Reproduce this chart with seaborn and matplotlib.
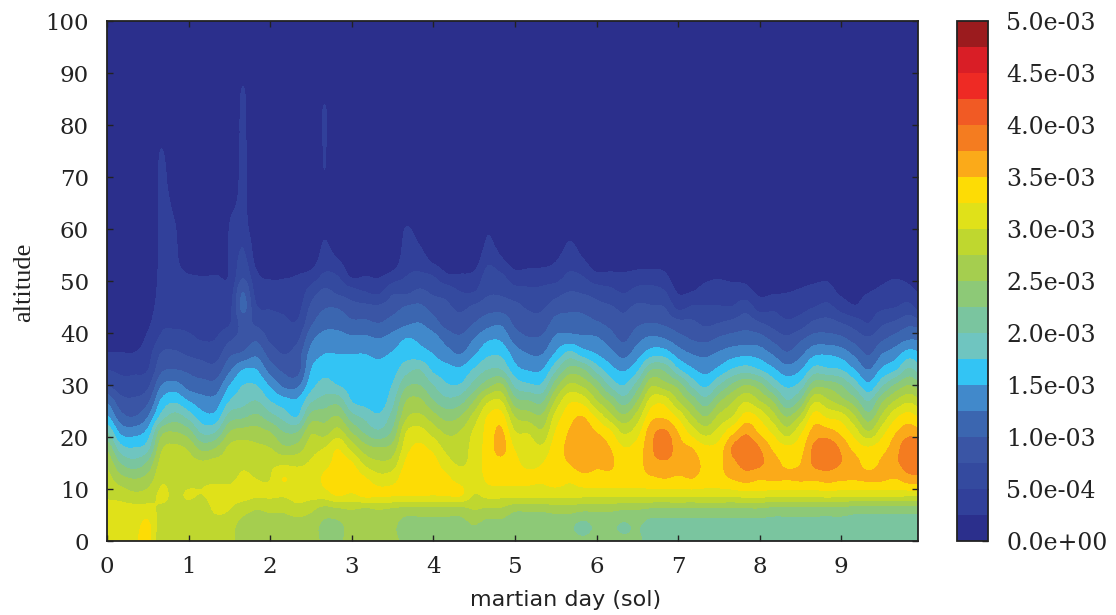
import matplotlib
matplotlib.use("Agg")
import matplotlib.pyplot as plt
from matplotlib.colors import ListedColormap, BoundaryNorm
import seaborn as sns
import numpy as np

# lower altitude rows of the profiles, 0 to 54 km, every 3 km
low_altitudes = [0, 3, 6, 9, 12, 15, 18, 21, 24, 27, 30, 33, 36, 39, 42, 45, 48, 51, 54]
# upper rows, 57 to 102 km
top_altitudes = [57, 60, 63, 66, 69, 72, 75, 78, 81, 84, 87, 90, 93, 96, 99, 102]

# one profile every 1/6 sol, in units of 1e-4
sol_0 = [
    [31, 31, 31, 29.5, 28.5, 27, 24.5, 20, 15.5, 12, 7.5, 5, 2.7, 1, .5, .3, .2, .2, .2],
    [31, 32, 31, 29, 26, 22.5, 18.5, 14.5, 11, 8.5, 6, 4.5, 2.7, 1, .5, .3, .2, .2, .2],
    [32, 31.5, 31, 28, 25, 21, 17.5, 14, 10, 8, 6, 4.5, 2.7, 1.2, .8, .4, .2, .2, .2],
    [33.5, 33.2, 31, 28.5, 26, 23, 19, 16, 12.5, 9.5, 7, 5, 4, 3, 2, 1.3, .8, .5, .3],
    [28, 28.5, 29.5, 30.5, 29.5, 28.5, 27, 24, 18.5, 15.5, 12.5, 9.5, 7.8, 5.5, 4.5, 3.8, 3.4, 3.2, 3.1],
    [28, 28.5, 29.5, 29.5, 29, 29, 28, 25, 21, 17, 13.5, 10, 8, 6, 4.5, 4, 3.5, 3.2, 3],
]
sol_1 = [
    [27.5, 28, 29, 30.3, 29, 28.5, 27, 23.5, 19, 15, 11.5, 9.5, 7.2, 5.5, 4.4, 3.7, 3.2, 2.7, 1],
    [28, 28, 28.5, 30, 29.5, 28, 24, 19.5, 16, 13.5, 11, 8.7, 6.7, 4.8, 4.2, 3.8, 3.4, 2.5, 1],
    [28.5, 28.5, 30.5, 31, 29.5, 28.5, 25, 20, 16, 13.5, 11, 8.5, 6.5, 5, 4.3, 3.9, 3.5, 2.6, 1],
    [28.5, 28.5, 30, 30.8, 29.5, 28.5, 28, 25, 21, 17.5, 15, 12, 9.5, 7, 4.8, 4.2, 3.5, 2.7, 2.7],
    [26, 26.5, 28.5, 31, 30.5, 29.5, 28.5, 26, 22, 19, 17.5, 15, 10.5, 8.5, 8.5, 10.8, 10, 7.2, 5.8],
    [26, 26, 27.5, 30.5, 30, 29, 28, 26, 23, 20, 17.5, 15, 12, 9.5, 7, 5.3, 4, 3, 1.8],
]
sol_2 = [
    [26, 26, 28, 30.5, 30, 29.5, 27.5, 25, 21, 17.5, 14.7, 11.5, 9, 7, 6, 4.8, 3.5, 2.2, .8],
    [26, 26, 28, 30.5, 32.6, 29.5, 25.5, 22.5, 19, 16, 12, 9.5, 7.5, 6.3, 5.5, 4.5, 3.3, 2.3, .8],
    [26, 26, 29, 31, 31, 29.5, 26, 22.5, 17.5, 15.5, 12, 9, 8.8, 7, 5.3, 4.1, 3.3, 2.6, 1],
    [26, 26, 28, 31, 31, 30.3, 29, 27, 23.5, 19.5, 16.5, 15, 13.5, 11.8, 9.5, 8, 6.2, 3.5, 1.2],
    [24.5, 24.5, 26.5, 31.5, 33, 31.5, 30, 26.5, 24, 21, 18.5, 16.5, 15, 13.5, 11.5, 9.8, 8, 5.5, 3.8],
    [24.5, 24.5, 27, 33, 34, 33.5, 32.3, 28.5, 25, 21.5, 17.5, 16, 15, 13.5, 11.5, 9.8, 7, 5, 2.7],
]
sol_3 = [
    [26, 26, 27.5, 32.3, 34, 32.8, 29, 25, 21, 17.5, 16.5, 16, 15, 13, 10.5, 8.5, 6, 2.2, .8],
    [26, 26, 27, 33.5, 32.8, 29.3, 26, 22, 19.3, 16.5, 16, 15.8, 15, 13, 10.5, 8.2, 5, 2.5, .8],
    [26, 26, 27.5, 33, 31, 28, 25, 20.5, 18, 16, 16, 15.7, 14.5, 12.5, 10, 8, 4.5, 2.3, .8],
    [25.5, 25.5, 27, 33, 31.5, 28.6, 26, 23, 21, 19.2, 17.7, 16.5, 15.3, 13.5, 11, 9, 7, 3.5, 1],
    [24.5, 24, 26.5, 33, 34, 33, 31.5, 30, 27, 25, 22, 19, 16.5, 15, 12, 10.2, 7, 5, 4],
    [24, 24, 26.5, 33, 34, 34, 33, 31, 28, 25.5, 22.5, 20, 16, 14.5, 12.5, 10.5, 8, 5.5, 4],
]
sol_4 = [
    [24, 24, 26.5, 32.8, 33.8, 33.5, 31.7, 29, 26, 22.6, 20, 17, 15, 13.5, 11, 9, 7, 5, 2],
    [24, 24, 26.5, 33, 33, 31, 29.2, 27, 24, 20.7, 17.8, 16, 13.5, 11.5, 9, 8, 6.5, 3, 1],
    [24, 24, 26.5, 33, 31.5, 29.7, 28.8, 27.7, 25, 21.5, 17.8, 15.5, 12.5, 10.5, 8.5, 7, 5, 2.8, 1],
    [25, 25, 27.5, 30, 31, 31, 31, 30.5, 28.5, 25, 21, 17.8, 14.7, 12.5, 10, 8, 5, 3.2, 1.2],
    [24, 24, 27, 31, 33, 33.5, 33.5, 33.3, 32.7, 29.5, 24, 20, 17, 14.5, 11.5, 9, 7, 6, 4.5],
    [24, 24, 27, 31, 33.5, 34.2, 36, 35.5, 33.5, 30, 25.5, 20, 17, 14.5, 12, 9, 7, 5.5, 3],
]
sol_5 = [
    [23.5, 23, 25.5, 31, 33.2, 33, 32.3, 30.2, 27.5, 23.5, 19.5, 16, 14, 11.5, 9.5, 8.3, 6, 3.5, 1.2],
    [23.5, 23, 25.5, 31, 33, 32, 31.5, 29.7, 26.2, 22.6, 18, 14.8, 12.5, 10.2, 8.5, 7.2, 5.5, 3.8, 1.2],
    [23.5, 23, 25.5, 31, 32.8, 32.5, 30.5, 28, 25.5, 22, 18, 15, 12.5, 10.5, 8.5, 7.2, 5.5, 4, 1.3],
    [23.5, 23, 26, 31, 33.8, 34, 34, 32.7, 31, 28, 24, 19.5, 15.5, 13, 11, 8.8, 6.5, 4, 2.4],
    [23.5, 23, 26, 31, 33, 35.1, 35.5, 35.2, 34, 32, 28, 23.5, 18.5, 13.5, 11, 9.5, 7.5, 5.5, 4],
    [23, 21.8, 25.5, 31, 34, 36.5, 37, 36.5, 35, 31.5, 27, 22.7, 16.5, 13, 11, 9.3, 7.2, 5, 2.8],
]
sol_6 = [
    [23.5, 23, 25.5, 31, 34, 35.5, 36.5, 35, 32, 27.7, 24, 19, 15, 12.8, 10.3, 8.3, 6.5, 3.2, 1],
    [23.5, 23, 25.5, 31, 34, 35.5, 35, 33, 28.5, 24.5, 19.5, 16, 13.5, 11.2, 9.3, 7.8, 5.7, 3.2, 1],
    [23, 22.2, 25, 31, 33.8, 33.7, 32.6, 29.6, 25.6, 21.2, 17.5, 14.7, 11.8, 9.5, 8.2, 7, 4.8, 3, 1],
    [23, 22.8, 25, 31, 33.8, 34, 33.5, 31.5, 28.7, 25, 21.2, 17, 14, 11.7, 9.5, 8, 5.8, 3.5, 1.2],
    [21.5, 21.5, 24.5, 31, 34.5, 36.5, 37, 36.5, 34, 31, 27, 22.3, 16.5, 13, 10, 7.8, 6, 3.5, 1.5],
    [21.5, 21.5, 24.5, 31, 35, 37, 39.5, 38, 34.5, 31.5, 26, 22, 16.5, 12.5, 9.5, 7.5, 5.2, 3, 1.5],
]
sol_7 = [
    [21, 21.5, 24.5, 31, 34.5, 36.5, 36, 35, 32, 27.5, 24, 18, 14, 11, 8.3, 4.5, 2.3, 1, .5],
    [21, 21.5, 24.5, 31, 35, 36, 35, 31.5, 27.8, 24.2, 19.5, 15.5, 12.5, 9.8, 8, 5.3, 2.5, 1.5, .6],
    [21, 21.5, 24.5, 31, 34, 34.5, 33, 29, 25, 21, 17, 14.2, 12, 9.3, 7, 5.2, 3.3, 2, .7],
    [21, 21.5, 24.5, 31, 34, 34.5, 33.5, 31, 28, 24.5, 20, 15.7, 13, 10.3, 7.5, 5.2, 3.7, 2.2, .8],
    [21, 21.5, 24.5, 31, 35.2, 36.8, 37.8, 34.3, 30, 27.3, 23, 17.8, 14, 11, 8.2, 5.2, 3.7, 1.8, .8],
    [21, 21.5, 24.5, 31.5, 36, 38.5, 39.5, 37, 33.5, 29.7, 25, 18.8, 14.5, 11.2, 9, 6.5, 3.4, 1.8, .8],
]
sol_8 = [
    [21, 21.5, 24.5, 31.5, 35.3, 38, 37.5, 34.5, 32, 27.5, 23.5, 17.5, 14, 11, 7.7, 4, 2, 1, .5],
    [21, 21.5, 24, 31, 35.5, 36, 34.5, 32, 28.5, 24.8, 19.5, 15.5, 12.3, 9.3, 6.5, 4.5, 2.2, 1.2, .5],
    [21, 21.5, 24, 31, 35.2, 34.5, 33, 28.8, 24.9, 20.2, 17, 13.6, 10.4, 8, 5.4, 3.9, 2.4, 1.3, .5],
    [21, 21.5, 24, 31, 35.5, 35, 34, 32, 28, 23, 18.5, 14.8, 12, 9.5, 6.2, 4.2, 2.8, 1.5, .5],
    [21, 21.5, 24, 31, 35.5, 38, 38, 36, 33.5, 29.5, 24, 18.5, 14.5, 11, 8, 5, 3.3, 1.8, .6],
    [21, 21.5, 24, 31.5, 36, 38.5, 39, 36, 32, 28, 24, 18, 14.8, 11, 8.4, 5.7, 3.5, 2, .7],
]
sol_9 = [
    [21, 21.5, 24, 31, 35.5, 37.5, 37, 34.3, 31.2, 26, 22.5, 17.5, 14, 10.5, 7.5, 4, 2, 1, .5],
    [21, 21.5, 23.5, 31, 35.3, 36, 34, 31.3, 27.7, 23.5, 19, 15, 12, 9, 6.3, 2.8, 1.8, 1, .4],
    [21, 21.5, 23.5, 31, 35.5, 34, 32.7, 27.8, 23.6, 19.8, 15.7, 12.5, 9.8, 7.8, 5, 3.9, 2.4, 1.2, .5],
    [21, 21.5, 23.5, 31, 35.5, 35.5, 34, 31.5, 28, 24.5, 19.5, 15.5, 12.5, 9.5, 7, 4.6, 3.1, 1.8, .6],
    [21, 21.5, 23.5, 31, 35, 37, 36.5, 34.8, 32, 27.7, 23, 17.3, 14, 11, 8, 5, 3.8, 2.2, .7],
    [21, 21.5, 23.5, 31, 36.5, 39, 39.5, 36.5, 33.5, 29.5, 25, 20.5, 16.3, 12.2, 9.3, 5.8, 3.3, 1.8, .7],
]
sol_10 = [
    [21, 21.5, 23.5, 31, 36.5, 39, 39, 35.5, 31.5, 27.5, 23, 18, 15, 12, 8.5, 3.5, 2, 1, .5],
]

# upper part of the profiles: quiet air, and the plumes by column number
calm_top = [.2, .1, 0, 0, 0, 0, 0, 0, 0, 0, 0, 0, 0, 0, 0, 0]
plume_tops = {
    4: [3.1, 3.05, 3, 3, 3, 2.9, 2.6, 1.8, .5, .2, 0, 0, 0, 0, 0, 0],
    5: [2.9, 2.7, 2.3, 1.8, 1.2, .8, .3, .1, 0, 0, 0, 0, 0, 0, 0, 0],
    9: [2.7, 2.6, 2.2, 1, .5, .2, 0, 0, 0, 0, 0, 0, 0, 0, 0, 0],
    10: [4.8, 3.6, 3.2, 3.1, 3, 3, 3, 2.9, 2.9, 2.8, 2.6, 1.8, .5, .2, 0, 0],
    11: [1.2, .8, .5, .3, .1, 0, 0, 0, 0, 0, 0, 0, 0, 0, 0, 0],
    16: [2.8, 1.9, 1, 1.5, 2.2, 2.55, 2.6, 2.7, 2.7, 2.5, 1.5, .5, .1, 0, 0, 0],
    17: [1, .5, .3, .1, 0, 0, 0, 0, 0, 0, 0, 0, 0, 0, 0, 0],
    22: [3.3, 2.7, 1.5, .5, .2, 0, 0, 0, 0, 0, 0, 0, 0, 0, 0, 0],
    23: [2.5, 1.5, .6, .2, 0, 0, 0, 0, 0, 0, 0, 0, 0, 0, 0, 0],
    28: [3, 2.2, 1, .3, 0, 0, 0, 0, 0, 0, 0, 0, 0, 0, 0, 0],
    29: [1.5, .8, .3, 0, 0, 0, 0, 0, 0, 0, 0, 0, 0, 0, 0, 0],
    33: [1, .4, .1, 0, 0, 0, 0, 0, 0, 0, 0, 0, 0, 0, 0, 0],
    34: [2.8, 1.6, .5, .1, 0, 0, 0, 0, 0, 0, 0, 0, 0, 0, 0, 0],
    35: [1.5, .6, .2, 0, 0, 0, 0, 0, 0, 0, 0, 0, 0, 0, 0, 0],
}

band_colors = ["#2B2F8C", "#31409A", "#344A9F", "#3A55A5", "#3B66B0", "#4189CB", "#33C4F4",
               "#6FC5C0", "#7AC59F", "#8DC977", "#A5CE4F", "#BFD72F", "#E0E119", "#FDDC05",
               "#FBAA19", "#F47C20", "#F15A24", "#EE2A24", "#D91E26", "#9B1B1E"]
level_edges = [0, 2.5, 5, 7.5, 10, 12.5, 15, 17.5, 20, 22.5, 25, 27.5, 30, 32.5, 35, 37.5, 40, 42.5, 45, 47.5, 50]
x_ticks = [0, 1, 2, 3, 4, 5, 6, 7, 8, 9]
y_ticks = [0, 10, 20, 30, 40, 50, 60, 70, 80, 90, 100]
cbar_ticks = [0, 5, 10, 15, 20, 25, 30, 35, 40, 45, 50]

sns.set_theme(style="ticks")
plt.rcParams['font.family'] = ['DejaVu Serif']

lows = sol_0 + sol_1 + sol_2 + sol_3 + sol_4 + sol_5 + sol_6 + sol_7 + sol_8 + sol_9 + sol_10
profiles = [p + plume_tops.get(i, calm_top) for i, p in enumerate(lows)]
field = np.array(profiles).T * 1e-4
altitudes = low_altitudes + top_altitudes
levels = np.array(level_edges) * 1e-4

cmap = ListedColormap(sns.color_palette(band_colors))
norm = BoundaryNorm(levels, cmap.N)

W, H = 1116, 615
fig = plt.figure(figsize=(W / 100, H / 100), dpi=100)
ax = fig.add_axes([107 / W, 1 - 541 / H, (918 - 107) / W, 520 / H])
cax = fig.add_axes([957 / W, 1 - 541 / H, 31 / W, 520 / H])

# bands come from the norm, catrom goes through the read values and keeps edges smooth
half_col = 1 / 12
half_row = 1.5
im = ax.imshow(field, origin="lower", aspect="auto", cmap=cmap, norm=norm,
               interpolation="catrom", interpolation_stage="data",
               extent=[-half_col, (len(profiles) - 1) / 6 + half_col,
                       altitudes[0] - half_row, altitudes[-1] + half_row])
ax.set_xlim(0, 9.94)
ax.set_ylim(0, 100)
ax.set_xticks(x_ticks)
ax.set_yticks(y_ticks)
ax.tick_params(direction="in", length=4, width=1, top=True, right=True, labelsize=16.5, colors="#222222")
ax.tick_params(axis="y", pad=13)
ax.tick_params(axis="x", pad=11)
for s in ax.spines.values():
    s.set_linewidth(1.3)
    s.set_color("#222222")

ax.set_xlabel("martian day (sol)", family="DejaVu Sans", fontsize=16, color="#222222")
ax.xaxis.set_label_coords((566 - 107) / 811, -(600 - 541) / 520, transform=ax.transAxes)
ax.xaxis.label.set_verticalalignment("center")
ax.set_ylabel("altitude", family="Liberation Serif", fontsize=19, color="#222222")
ax.yaxis.set_label_coords((24 - 107) / 811, (541 - 282) / 520, transform=ax.transAxes)
ax.yaxis.label.set_verticalalignment("center")

cbar = fig.colorbar(im, cax=cax, ticks=np.array(cbar_ticks) * 1e-4, format="%.1e", spacing="proportional")
cbar.minorticks_off()
cbar.ax.tick_params(direction="in", length=4, width=1, labelsize=17, pad=13, colors="#222222")
cbar.outline.set_linewidth(1.3)
cbar.outline.set_edgecolor("#222222")

fig.savefig("out.png", dpi=100)
